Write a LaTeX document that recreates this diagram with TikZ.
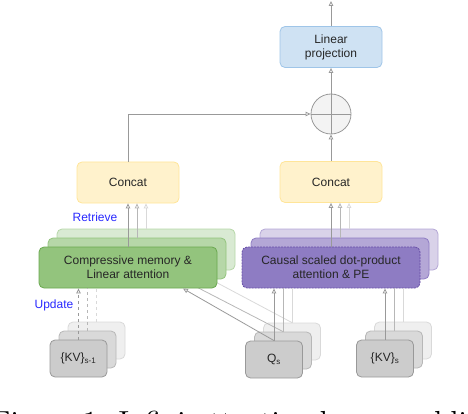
\documentclass[tikz,border=0pt]{standalone}
\usepackage{fontspec}
\newfontfamily\sansf{Liberation Sans}
\usetikzlibrary{arrows.meta,calc}
\definecolor{blueF}{HTML}{CFE2F3}
\definecolor{blueD}{HTML}{9FC5E8}
\definecolor{yelF}{HTML}{FFF2CC}
\definecolor{yelD}{HTML}{FFE599}
\definecolor{grnF1}{HTML}{93C47D}
\definecolor{grnD1}{HTML}{6AA84F}
\definecolor{grnF2}{HTML}{B6D7A8}
\definecolor{grnD2}{HTML}{93C47D}
\definecolor{grnF3}{HTML}{D9EAD3}
\definecolor{grnD3}{HTML}{B6D7A8}
\definecolor{purF1}{HTML}{8E7CC3}
\definecolor{purD1}{HTML}{674EA7}
\definecolor{purF2}{HTML}{B4A7D6}
\definecolor{purD2}{HTML}{8E7CC3}
\definecolor{purF3}{HTML}{D9D2E9}
\definecolor{purD3}{HTML}{B4A7D6}
\definecolor{gryF1}{HTML}{CCCCCC}
\definecolor{gryD1}{HTML}{999999}
\definecolor{gryF2}{HTML}{D9D9D9}
\definecolor{gryD2}{HTML}{B7B7B7}
\definecolor{gryF3}{HTML}{EFEFEF}
\definecolor{gryD3}{HTML}{D9D9D9}
\definecolor{plusF}{HTML}{F3F3F3}
\definecolor{ln1}{HTML}{999999}
\definecolor{ln2}{HTML}{B7B7B7}
\definecolor{ln3}{HTML}{D9D9D9}
\definecolor{lblue}{RGB}{40,40,255}
\begin{document}
\begin{tikzpicture}[x=1pt,y=-1pt,
  blk/.style={rounded corners=5pt, line width=0.8pt, inner sep=0pt, align=center,
    font=\sansf\fontsize{12}{14}\selectfont, text=black!85},
  ccbox/.style={blk, minimum width=102pt, minimum height=41pt},
  bigbox/.style={blk, minimum width=178pt, minimum height=41pt},
  smbox/.style={blk, minimum width=57pt, minimum height=37pt},
  arr/.style={line width=0.8pt, -{Triangle[open,length=5pt,width=4.5pt]}},
  lnA/.style={line width=0.8pt, draw=ln1},
  lnB/.style={line width=0.8pt, draw=ln2},
  lnC/.style={line width=0.8pt, draw=ln3},
  lbl/.style={font=\sansf\fontsize{12}{14}\selectfont, text=lblue, inner sep=0pt}
]
\useasboundingbox (0,0) rectangle (468,414);
\clip (0,0) rectangle (468,414);

% bottom input stacks
\node[smbox, fill=gryF3, draw=gryD3] (kvB) at (96.5,340.5) {};
\node[smbox, fill=gryF2, draw=gryD2] (kvM) at (87.5,349.5) {};
\node[smbox, fill=gryF1, draw=gryD1] (kvF) at (78.5,358.5) {\{KV\}\textsubscript{s-1}};

\node[smbox, fill=gryF3, draw=gryD3] (qB) at (292,341.5) {};
\node[smbox, fill=gryF2, draw=gryD2] (qM) at (283,350.5) {};
\node[smbox, fill=gryF1, draw=gryD1] (qF) at (274,359.5) {Q\textsubscript{s}};

\node[smbox, fill=gryF3, draw=gryD3] (kvsB) at (403,340.5) {};
\node[smbox, fill=gryF2, draw=gryD2] (kvsM) at (394,349.5) {};
\node[smbox, fill=gryF1, draw=gryD1] (kvsF) at (385,358.5) {\{KV\}\textsubscript{s}};

% hidden parts of Q -> memory lines
\coordinate (tB) at (193,270);
\coordinate (tM) at (183,280);
\coordinate (tF) at (183,288.5);
\draw[lnC] (qB.north) -- (tB);
\draw[lnB] (qM.north) -- (tM);

% green stack
\node[bigbox, fill=grnF3, draw=grnD3] (gB) at (146,249.5) {};
\node[bigbox, fill=grnF2, draw=grnD2] (gM) at (137,258.5) {};
\node[bigbox, fill=grnF1, draw=grnD1] (gF) at (128,267.5) {Compressive memory \&\\Linear attention};

% purple stack
\node[bigbox, fill=purF3, draw=purD3] (pB) at (349,249.5) {};
\node[bigbox, fill=purF2, draw=purD2] (pM) at (340,258.5) {};
\node[bigbox, fill=purF1, draw=purD1, dash pattern=on 2pt off 1pt] (pF) at (331,267.5) {Causal scaled dot-product\\attention \& PE};

% concat + top
\node[ccbox, fill=yelF, draw=yelD] (cL) at (128,182.5) {Concat};
\node[ccbox, fill=yelF, draw=yelD] (cR) at (331,182) {Concat};
\node[circle, minimum size=40pt, inner sep=0pt, fill=plusF, draw=ln1, line width=0.8pt] (plus) at (331,114) {};
\draw[lnA] (plus.north) -- (plus.south) (plus.west) -- (plus.east);
\node[ccbox, fill=blueF, draw=blueD] (lin) at (331,47) {Linear\\projection};
\coordinate (out) at (331,1);

% Q -> memory front
\draw[arr, draw=ln1] (qF.north) -- (tF);

% update (dashed)
\draw[arr, draw=ln1, dashed] (kvF.north) -- (kvF.north |- gF.south);
\draw[lnB, dashed] (kvM.north) -- (kvM.north |- gF.south);
\draw[lnC, dashed] (kvB.north) -- (kvB.north |- gF.south);

% Q, KV -> attention
\draw[arr, draw=ln1] (qF.north) -- (qF.north |- pF.south);
\draw[lnB] (qM.north) -- (qM.north |- pF.south);
\draw[lnC] (qB.north) -- (qB.north |- pF.south);
\draw[arr, draw=ln1] (kvsF.north) -- (kvsF.north |- pF.south);
\draw[lnB] (kvsM.north) -- (kvsM.north |- pF.south);
\draw[lnC] (kvsB.north) -- (kvsB.north |- pF.south);

% retrieve
\draw[arr, draw=ln1] (gF.north) -- (gF.north |- cL.south);
\draw[arr, draw=ln2] (gM.north) -- (gM.north |- cL.south);
\draw[arr, draw=ln3] (gB.north) -- (gB.north |- cL.south);
\draw[arr, draw=ln1] (pF.north) -- (pF.north |- cR.south);
\draw[arr, draw=ln2] (pM.north) -- (pM.north |- cR.south);
\draw[arr, draw=ln3] (pB.north) -- (pB.north |- cR.south);

% to sum and projection
\draw[arr, draw=ln1] (cL.north) |- (plus.west);
\draw[arr, draw=ln1] (cR.north) -- (plus.south);
\draw[arr, draw=ln1] (plus.north) -- (lin.south);
\draw[arr, draw=ln1] (lin.north) -- (out);

% labels
\node[lbl] (retr) at (95,217) {Retrieve};
\node[lbl] (upd) at (54,305) {Update};

% caption (cut off by the picture edge)
\node[anchor=base west, inner sep=0pt, scale=2.9, font=\fontsize{10}{12}\selectfont] (cap) at (-9,431) {Figure 1: Infini-attention has an additional compressive memory};
\end{tikzpicture}
\end{document}
